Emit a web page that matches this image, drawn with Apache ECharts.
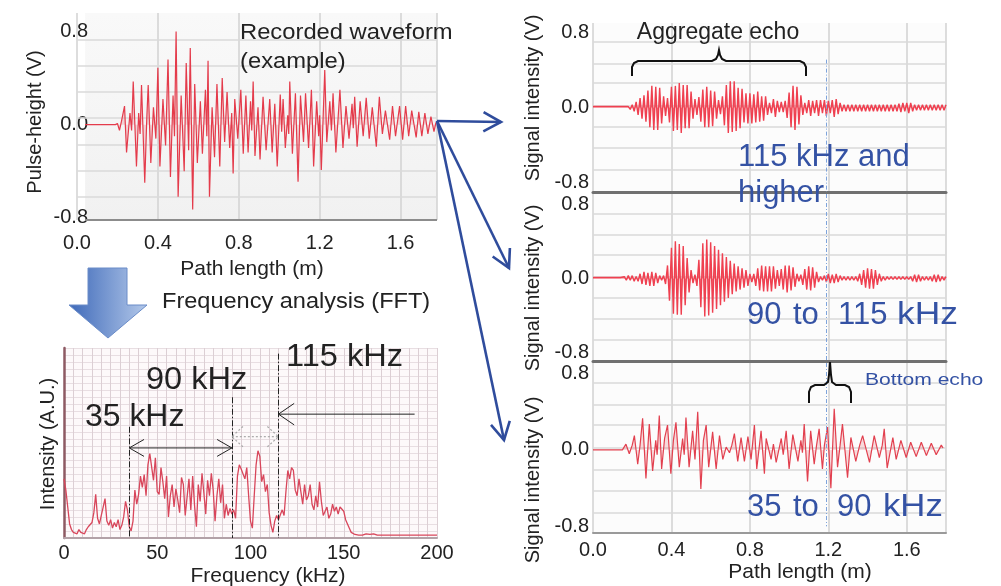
<!DOCTYPE html>
<html>
<head>
<meta charset="utf-8">
<script src="https://cdn.jsdelivr.net/npm/echarts@6/dist/echarts.min.js"></script>
<style>
  html, body { margin: 0; padding: 0; background: #ffffff; }
  #chart { width: 1001px; height: 586px; }
</style>
</head>
<body>
<div id="chart"></div>
<script>
// ---------------- data ----------------
// Recorded waveform: [path length (m), pulse height (V)]
const RECORDED_WAVE = [
  [0.04,0],[0.19,0],[0.20,0.01],[0.21,-0.05],[0.22,0.03],[0.235,0.16],[0.245,-0.24],[0.262,0.10],[0.27,-0.05],[0.278,0.37],
  [0.294,-0.36],[0.305,0.10],[0.312,-0.08],[0.319,0.34],[0.335,-0.50],[0.345,0.05],[0.352,0.34],[0.365,-0.33],[0.378,0.15],[0.39,-0.12],
  [0.40,0.49],[0.41,-0.36],[0.425,0.22],[0.438,-0.18],[0.45,0.56],[0.462,-0.45],[0.475,0.25],[0.482,-0.10],[0.49,0.80],[0.50,-0.62],
  [0.515,0.25],[0.53,-0.40],[0.54,0.53],[0.552,-0.22],[0.56,0.66],[0.572,-0.73],[0.582,0.35],[0.595,-0.33],[0.61,0.20],[0.62,-0.25],
  [0.635,0.30],[0.642,-0.10],[0.648,0.55],[0.655,-0.62],[0.668,0.15],[0.68,-0.28],[0.692,0.35],[0.706,-0.36],[0.718,0.40],[0.73,-0.15],
  [0.742,0.28],[0.755,-0.20],[0.765,0.10],[0.772,-0.42],[0.78,0.22],[0.795,-0.12],[0.81,0.30],[0.822,-0.25],[0.835,0.25],[0.846,-0.24],
  [0.858,0.20],[0.864,-0.05],[0.871,0.37],[0.88,-0.27],[0.895,0.15],[0.905,-0.30],[0.92,0.24],[0.935,-0.22],[0.953,0.22],[0.965,-0.24],
  [0.978,0.18],[0.99,-0.36],[1.005,0.26],[1.012,-0.06],[1.019,0.22],[1.03,-0.20],[1.042,0.08],[1.047,-0.08],[1.052,0.37],[1.065,-0.25],
  [1.08,0.27],[1.093,-0.49],[1.105,0.25],[1.12,-0.15],[1.13,0.27],[1.145,-0.20],[1.159,0.30],[1.17,-0.36],[1.185,0.20],[1.195,-0.10],
  [1.20,0.08],[1.208,-0.39],[1.225,0.47],[1.235,-0.15],[1.25,0.20],[1.258,-0.05],[1.266,0.27],[1.28,-0.24],[1.30,0.30],[1.315,-0.20],
  [1.33,0.16],[1.345,-0.12],[1.36,0.18],[1.366,-0.03],[1.373,0.24],[1.385,-0.19],[1.40,0.20],[1.415,-0.10],[1.43,0.23],[1.445,-0.12],
  [1.46,0.15],[1.48,-0.19],[1.495,0.24],[1.51,-0.08],[1.525,0.12],[1.546,-0.13],[1.56,0.16],[1.575,-0.10],[1.595,0.16],[1.61,-0.13],
  [1.625,0.16],[1.64,-0.10],[1.655,0.12],[1.677,-0.11],[1.69,0.11],[1.705,-0.10],[1.72,0.10],[1.735,-0.08],[1.75,0.07],[1.765,-0.06],
  [1.775,0.02]
];

// FFT spectrum: intensity (A.U.) sampled every 1 kHz from 0 to 200 kHz
const FFT_STEP_KHZ = 1;
const FFT_INTENSITY = [
  42,34,22,10,6,4,5,3,6,4,
  5,3,6,8,7,11,18,31,14,10,
  16,22,28,12,9,13,7,11,8,13,
  6,9,15,26,20,8,5,12,34,24,
  31,44,36,45,30,52,60,61,41,57,
  33,31,50,40,28,44,15,30,38,22,
  35,27,18,43,38,16,29,42,20,44,
  23,8,38,26,46,32,17,41,30,46,
  34,12,30,42,25,38,14,24,16,21,
  17,20,14,44,52,49,48,42,50,30,
  12,7,30,52,62,58,40,45,33,38,
  18,9,4,12,16,13,14,20,16,33,
  48,42,50,48,34,30,42,33,24,38,
  27,30,38,24,20,30,22,40,26,16,
  17,22,14,17,24,19,22,17,22,21,
  19,13,10,7,4,3,2.5,2,2,2,
  2,2.5,3,3,2.5,3,3,2.5,2,2,
  2,2,2,2,2,2,2,2,2,2,
  2,2,2,2,2,2,2,2,2,2,
  2,2,2,2,2,2,2,2,2,2,
  2
];

// Band-filtered signals sampled every 0.01 m from 0 to 1.8 m (V)
const FILTER_STEP_M = 0.01;
const BAND_115_UP = [
  0.01,-0.01,0.01,-0.01,0.01,-0.01,0.01,-0.01,0.01,-0.01,0.01,-0.01,0.01,-0.01,0.01,-0.01,0.01,-0.01,0.01,
  -0.02,0.03,-0.04,0.06,-0.08,0.10,-0.12,0.13,-0.15,0.18,-0.21,
  0.23,-0.24,0.22,-0.24,0.21,-0.17,0.12,-0.09,0.10,-0.16,
  0.22,-0.25,0.23,-0.24,0.26,-0.27,0.24,-0.22,0.24,-0.22,
  0.17,-0.12,0.09,-0.08,0.11,-0.15,0.19,-0.21,0.22,-0.21,
  0.18,-0.20,0.17,-0.12,0.08,-0.07,0.12,-0.19,0.24,-0.27,
  0.28,-0.26,0.28,-0.25,0.21,-0.22,0.20,-0.16,0.15,-0.17,
  0.15,-0.17,0.14,-0.16,0.17,-0.15,0.12,-0.14,0.12,-0.08,
  0.05,-0.06,0.09,-0.10,0.07,-0.05,0.06,-0.05,0.07,-0.11,
  0.16,-0.21,0.23,-0.24,0.22,-0.18,0.13,-0.08,0.05,-0.06,
  0.08,-0.09,0.07,-0.06,0.08,-0.09,0.08,-0.06,0.08,-0.09,
  0.07,-0.06,0.08,-0.10,0.09,-0.07,0.05,-0.04,0.03,-0.04,
  0.03,-0.04,0.03,-0.04,0.03,-0.04,0.03,-0.04,0.03,-0.04,
  0.03,-0.04,0.03,-0.04,0.03,-0.04,0.03,-0.04,0.03,-0.04,
  0.03,-0.04,0.03,-0.04,0.03,-0.04,0.04,-0.05,0.05,-0.04,
  0.05,-0.06,0.05,-0.04,0.03,-0.03,0.03,-0.03,0.03,-0.03,
  0.03,-0.03,0.03,-0.03,0.03,-0.03,0.03,-0.03,0.03,-0.03,
  0.03
];
const BAND_90_115 = [
  0.01,-0.01,0.01,-0.01,0.01,-0.01,0.01,-0.01,0.01,-0.01,0.01,-0.01,0.01,-0.01,0.01,-0.01,
  0.02,-0.02,0.03,-0.02,0.03,-0.03,0.02,-0.03,0.05,-0.06,0.07,-0.07,0.06,-0.08,
  0.07,-0.08,0.06,-0.05,0.03,-0.02,0.03,-0.06,0.14,-0.24,
  0.33,-0.38,0.40,-0.39,0.37,-0.39,0.35,-0.29,0.22,-0.15,
  0.09,-0.05,0.04,-0.08,0.20,-0.31,0.38,-0.41,0.42,-0.40,
  0.39,-0.37,0.35,-0.33,0.31,-0.29,0.27,-0.25,0.23,-0.21,
  0.19,-0.17,0.16,-0.14,0.13,-0.12,0.11,-0.10,0.09,-0.08,
  0.05,-0.04,0.05,-0.08,0.11,-0.13,0.14,-0.14,0.13,-0.14,
  0.13,-0.14,0.13,-0.11,0.09,-0.08,0.10,-0.12,0.14,-0.15,
  0.14,-0.13,0.12,-0.09,0.05,-0.03,0.04,-0.07,0.10,-0.12,
  0.13,-0.13,0.12,-0.10,0.07,-0.04,0.02,-0.02,0.03,-0.04,
  0.05,-0.05,0.04,-0.05,0.05,-0.04,0.03,-0.02,0.02,-0.02,
  0.02,-0.02,0.02,-0.02,0.02,-0.03,0.05,-0.07,0.09,-0.10,
  0.11,-0.11,0.10,-0.11,0.09,-0.07,0.05,-0.03,0.02,-0.02,
  0.02,-0.01,0.02,-0.01,0.02,-0.01,0.02,-0.01,0.02,-0.01,
  0.02,-0.01,0.02,-0.03,0.04,-0.04,0.04,-0.03,0.02,-0.02,
  0.02,-0.02,0.02,-0.03,0.04,-0.04,0.04,-0.03,0.02,-0.02,
  0.02
];
// 35 to 90 kHz band: [path length (m), signal (V)]
const BAND_35_90 = [
  [0,0],[0.15,0],[0.158,-0.02],[0.168,0.06],[0.185,-0.04],[0.20,0.05],[0.211,0.15],[0.228,-0.15],[0.24,0.05],[0.253,0.33],
  [0.27,-0.30],[0.287,0.27],[0.304,-0.22],[0.32,0.10],[0.327,-0.05],[0.338,0.36],[0.35,-0.20],[0.365,0.12],[0.38,0.26],[0.397,-0.25],
  [0.41,0.10],[0.423,0.29],[0.44,-0.18],[0.457,0.12],[0.465,-0.05],[0.474,0.34],[0.49,-0.18],[0.508,0.20],[0.52,-0.10],[0.534,0.40],
  [0.55,-0.41],[0.563,0.10],[0.577,0.26],[0.59,-0.18],[0.61,0.19],[0.628,-0.20],[0.645,0.15],[0.662,-0.10],[0.679,0.03],[0.696,-0.03],
  [0.708,0.05],[0.721,0.17],[0.738,-0.12],[0.755,0.13],[0.772,-0.12],[0.79,0.14],[0.806,-0.10],[0.823,0.26],[0.835,-0.20],[0.857,0.20],
  [0.874,-0.25],[0.883,0.12],[0.908,-0.10],[0.92,0.06],[0.934,-0.13],[0.96,0.12],[0.97,-0.05],[0.985,0.20],[1.00,-0.20],[1.019,0.16],
  [1.045,-0.12],[1.06,0.10],[1.068,-0.03],[1.077,0.27],[1.094,-0.33],[1.11,0.20],[1.128,-0.15],[1.14,0.05],[1.153,0.22],[1.17,-0.20],
  [1.18,0.05],[1.196,0.24],[1.213,-0.40],[1.23,0.43],[1.247,-0.18],[1.26,0.05],[1.272,0.27],[1.298,-0.29],[1.315,0.13],[1.34,-0.12],
  [1.36,0.05],[1.375,0.15],[1.39,0.03],[1.41,-0.13],[1.434,0.15],[1.46,-0.08],[1.475,0.05],[1.485,0.22],[1.50,-0.19],[1.529,0.13],
  [1.546,-0.10],[1.57,0.10],[1.597,-0.08],[1.62,0.08],[1.648,-0.07],[1.674,0.08],[1.70,-0.06],[1.725,0.07],[1.75,-0.05],[1.776,0.05],
  [1.785,0.02]
];

// Tick labels and band edges
const PATH_TICKS = [0, 0.4, 0.8, 1.2, 1.6];
const VOLT_TICKS = [-0.8, 0, 0.8];
const BAND_EDGES_KHZ = [35, 90, 115];
const BOTTOM_ECHO_M = 1.19;
const RECORD_SPAN_M = [0.04, 1.78];

// ---------------- styling ----------------
const FONT = "'Liberation Sans', Arial, Helvetica, sans-serif";
const INK = '#222222';
const BLUE_TEXT = '#3452a4';
const BLUE_ARROW = '#2f4c9c';
const WAVE_RED = '#e43b4b';

const toSeries = (vals, step) => vals.map((v, i) => [+(i * step).toFixed(3), v]);

function pathAxis(gridIndex, max, showLabels, lineShow, lineColor, lineWidth, margin) {
  return {
    type: 'value', gridIndex, min: 0, max, interval: 0.4,
    axisLine: { show: lineShow, onZero: false, lineStyle: { color: lineColor, width: lineWidth } },
    axisTick: { show: false },
    axisLabel: {
      show: showLabels, customValues: PATH_TICKS, formatter: v => v.toFixed(1),
      margin, fontFamily: FONT, fontSize: 20, color: INK
    },
    splitLine: { show: true, lineStyle: { color: '#d2d2d2', width: 1.5 } }
  };
}
function voltAxis(gridIndex, min, max, margin) {
  return {
    type: 'value', gridIndex, min, max,
    axisLine: { show: false }, axisTick: { show: false },
    axisLabel: {
      customValues: VOLT_TICKS, formatter: v => v.toFixed(1),
      margin, fontFamily: FONT, fontSize: 20, color: INK
    },
    splitLine: { show: false }
  };
}
// horizontal guide lines drawn behind a trace
function guideLines(idx, values) {
  return {
    type: 'line', xAxisIndex: idx, yAxisIndex: idx, data: [], silent: true,
    markLine: {
      silent: true, symbol: 'none', z: 1, animation: false, label: { show: false },
      lineStyle: { color: '#dadada', width: 1.5, type: 'solid' },
      data: values.map(v => ({ yAxis: v }))
    }
  };
}
function segmentLines(idx, segs, lineStyle, z) {
  return {
    type: 'line', xAxisIndex: idx, yAxisIndex: idx, data: [], silent: true,
    markLine: {
      silent: true, symbol: 'none', z: z, animation: false, label: { show: false },
      lineStyle, data: segs.map(s => [{ coord: s[0] }, { coord: s[1] }])
    }
  };
}
function trace(idx, data, color, width, fillOpacity) {
  const s = {
    type: 'line', xAxisIndex: idx, yAxisIndex: idx, data, symbol: 'none',
    silent: true, z: 3, lineStyle: { color, width }
  };
  if (fillOpacity) s.areaStyle = { color, opacity: fillOpacity, origin: 0 };
  return s;
}

const chart = echarts.init(document.getElementById('chart'), null, { renderer: 'canvas' });

const option = {
  animation: false,
  backgroundColor: '#ffffff',
  grid: [
    { left: 77, top: 13, width: 360, height: 207, show: false },
    { left: 64, top: 348, width: 373, height: 190, show: true, backgroundColor: '#fdf9fa', borderWidth: 0 },
    { left: 593, top: 23, width: 353, height: 169, show: true, backgroundColor: '#fcfcfc', borderWidth: 0 },
    { left: 593, top: 194, width: 353, height: 167, show: true, backgroundColor: '#fcfcfc', borderWidth: 0 },
    { left: 593, top: 363, width: 353, height: 170, show: true, backgroundColor: '#fcfcfc', borderWidth: 0 }
  ],
  xAxis: [
    pathAxis(0, 1.78, true, false, '#8c8c8c', 2, 13),
    {
      type: 'value', gridIndex: 1, min: 0, max: 200, interval: 50,
      axisLine: { show: true, onZero: false, lineStyle: { color: '#b3a2a8', width: 2 } },
      axisTick: { show: false },
      axisLabel: { margin: 5, fontFamily: FONT, fontSize: 20, color: INK },
      splitLine: { show: true, lineStyle: { color: '#dccfd4', width: 1 } },
      minorTick: { show: false, splitNumber: 10 },
      minorSplitLine: { show: true, lineStyle: { color: '#dccfd4', width: 1 } }
    },
    pathAxis(2, 1.8, false, true, '#707070', 3, 8),
    pathAxis(3, 1.8, false, true, '#707070', 3, 8),
    pathAxis(4, 1.8, true, true, '#9a9a9a', 2, 7)
  ],
  yAxis: [
    voltAxis(0, -0.82, 0.96, -11),
    {
      type: 'value', gridIndex: 1, min: 0, max: 135, interval: 5,
      axisLine: { show: true, onZero: false, lineStyle: { color: '#8e5a63', width: 2.5 } },
      axisTick: { show: false }, axisLabel: { show: false },
      splitLine: { show: true, lineStyle: { color: '#e8dee2', width: 1 } }
    },
    voltAxis(2, -0.9, 0.9, 4),
    voltAxis(3, -0.89, 0.91, 4),
    voltAxis(4, -0.87, 0.91, 4)
  ],
  series: [
    guideLines(0, [0.73, 0.505, 0.28, 0.055, -0.17, -0.395, -0.62]),
    guideLines(2, [0.70, 0.475, 0.255, 0.02, -0.215, -0.435, -0.66]),
    guideLines(3, [0.70, 0.475, 0.255, 0.02, -0.215, -0.435, -0.66]),
    guideLines(4, [0.70, 0.475, 0.255, 0.02, -0.215, -0.435, -0.66]),
    trace(0, RECORDED_WAVE, WAVE_RED, 1.2, 0.18),
    trace(1, toSeries(FFT_INTENSITY, FFT_STEP_KHZ), '#d8465b', 1.3),
    trace(2, toSeries(BAND_115_UP, FILTER_STEP_M), '#ef4050', 1.4, 0.75),
    trace(3, toSeries(BAND_90_115, FILTER_STEP_M), '#ef4050', 1.4, 0.75),
    trace(4, BAND_35_90, '#e2404f', 1.2, 0.18),
    // base line of the recorded waveform panel
    segmentLines(0, [[[RECORD_SPAN_M[0], -0.82], [RECORD_SPAN_M[1], -0.82]]], { color: '#8c8c8c', width: 2, type: 'solid' }, 5),
    // band edges in the spectrum
    segmentLines(1, [
      [[BAND_EDGES_KHZ[0], 79], [BAND_EDGES_KHZ[0], 0]],
      [[BAND_EDGES_KHZ[1], 100], [BAND_EDGES_KHZ[1], 0]],
      [[BAND_EDGES_KHZ[2], 131], [BAND_EDGES_KHZ[2], 0]]
    ], { color: '#222', width: 1, type: [6, 2, 1.5, 2] }, 5),
    // bottom echo position across the filtered traces
    segmentLines(2, [[[BOTTOM_ECHO_M, 0.51], [BOTTOM_ECHO_M, -0.9]]], { color: '#7ea4dc', width: 1, type: [4, 2, 1, 2] }, 5),
    segmentLines(3, [[[BOTTOM_ECHO_M, 0.91], [BOTTOM_ECHO_M, -0.89]]], { color: '#7ea4dc', width: 1, type: [4, 2, 1, 2] }, 5),
    segmentLines(4, [[[BOTTOM_ECHO_M, 0.91], [BOTTOM_ECHO_M, -0.8]]], { color: '#7ea4dc', width: 1, type: [4, 2, 1, 2] }, 5)
  ]
};
chart.setOption(option);

// ---------------- annotations ----------------
function text(str, x, y, size, opts) {
  const o = opts || {};
  return {
    type: 'text', x, y, rotation: o.rotation || 0, scaleX: o.scaleX || 1, z: 20, silent: true,
    style: {
      text: str, fontFamily: FONT, fontSize: size, fill: o.fill || INK,
      align: o.align || 'left', verticalAlign: 'middle'
    }
  };
}
function chevron(tip, fromPt, len, halfAngle, style) {
  const ang = Math.atan2(tip[1] - fromPt[1], tip[0] - fromPt[0]);
  const a1 = [tip[0] - len * Math.cos(ang - halfAngle), tip[1] - len * Math.sin(ang - halfAngle)];
  const a2 = [tip[0] - len * Math.cos(ang + halfAngle), tip[1] - len * Math.sin(ang + halfAngle)];
  return { type: 'polyline', z: 20, silent: true, shape: { points: [a1, tip, a2] }, style: Object.assign({ fill: null }, style) };
}
function shaft(a, b, style) {
  return { type: 'line', z: 20, silent: true, shape: { x1: a[0], y1: a[1], x2: b[0], y2: b[1] }, style: Object.assign({}, style) };
}

const px = (g, pt) => chart.convertToPixel({ gridIndex: g }, pt);
const thin = { stroke: '#222', lineWidth: 1 };
const dotted = { stroke: '#a8a8a8', lineWidth: 1.2, lineDash: [2, 2] };

const b35 = px(1, [BAND_EDGES_KHZ[0], 64]);
const b90 = px(1, [BAND_EDGES_KHZ[1], 64]);
const g90 = px(1, [BAND_EDGES_KHZ[1], 72]);
const g115 = px(1, [BAND_EDGES_KHZ[2], 72]);
const a115 = px(1, [BAND_EDGES_KHZ[2], 88]);
const aTail = px(1, [188, 88]);

// plot background of the recorded waveform, spanning the recorded range only
const bgTL = px(0, [RECORD_SPAN_M[0], 0.96]);
const bgBR = px(0, [RECORD_SPAN_M[1], -0.82]);

const blueStyle = { stroke: BLUE_ARROW, lineWidth: 2.6 };
const origin = [437, 121];
const targets = [[501, 122], [509, 268], [504, 440]];

const graphics = [
  {
    type: 'rect', z: -1, silent: true,
    shape: { x: bgTL[0], y: bgTL[1], width: bgBR[0] - bgTL[0], height: bgBR[1] - bgTL[1] },
    style: {
      fill: new echarts.graphic.LinearGradient(0, 0, 0, 1, [
        { offset: 0, color: '#f9f9f9' }, { offset: 1, color: '#f1f1f1' }
      ])
    }
  },
  // block arrow pointing to the spectrum
  {
    type: 'polygon', z: 15, silent: true,
    shape: { points: [[88, 268], [127, 268], [127, 305], [147, 305], [108, 338], [69, 305], [88, 305]] },
    style: {
      fill: new echarts.graphic.LinearGradient(0, 0, 1, 0, [
        { offset: 0, color: '#3e69b9' }, { offset: 1, color: '#b4c9ea' }
      ]),
      stroke: '#6a8cc8', lineWidth: 1
    }
  },
  // spectrum arrows
  shaft(b35, b90, thin),
  chevron(b35, b90, 17, 0.52, thin),
  chevron(b90, b35, 17, 0.52, thin),
  shaft(g90, g115, dotted),
  chevron(g90, g115, 15, 0.74, dotted),
  chevron(g115, g90, 15, 0.74, dotted),
  shaft(aTail, a115, thin),
  chevron(a115, aTail, 19, 0.6, thin),
  // braces
  {
    type: 'polyline', z: 20, silent: true,
    shape: { points: [[632, 76], [632, 67], [634, 63], [638, 61], [712, 61], [716, 59], [718, 55], [719, 50], [720, 55], [722, 59], [726, 61], [800, 61], [804, 63], [806, 67], [806, 76]] },
    style: { stroke: '#111', lineWidth: 2, fill: null }
  },
  {
    type: 'polyline', z: 20, silent: true,
    shape: { points: [[809, 403], [809, 392], [811, 387], [815, 385], [824, 385], [828, 382], [829, 375], [830, 362], [831, 375], [832, 382], [836, 385], [845, 385], [849, 387], [851, 392], [851, 403]] },
    style: { stroke: '#111', lineWidth: 2, fill: null }
  },
  // texts
  text('Recorded waveform', 240, 33, 22, { scaleX: 1.08 }),
  text('(example)', 240, 62, 22, { scaleX: 1.08 }),
  text('Pulse-height (V)', 35, 122, 20, { rotation: Math.PI / 2, align: 'center' }),
  text('Path length (m)', 252, 269, 21, { align: 'center' }),
  text('Frequency analysis (FFT)', 162, 302, 22, { scaleX: 1.07 }),
  text('Intensity (A.U.)', 48, 444, 20, { rotation: Math.PI / 2, align: 'center' }),
  text('Frequency (kHz)', 268, 576, 21, { align: 'center' }),
  text('35 kHz', 85, 417, 31, { scaleX: 1.03 }),
  text('90 kHz', 146, 380, 31, { scaleX: 1.05 }),
  text('115 kHz', 286, 357, 31, { scaleX: 1.05 }),
  text('Aggregate echo', 718, 33, 23, { align: 'center' }),
  text('Signal intensity (V)', 533, 98, 20, { rotation: Math.PI / 2, align: 'center' }),
  text('Signal intensity (V)', 533, 288, 20, { rotation: Math.PI / 2, align: 'center' }),
  text('Signal intensity (V)', 533, 480, 20, { rotation: Math.PI / 2, align: 'center' }),
  text('115 kHz and', 738, 157, 31, { fill: BLUE_TEXT }),
  text('higher', 738, 193, 31, { fill: BLUE_TEXT }),
  text('90', 747, 315, 31, { fill: BLUE_TEXT }),
  text('to', 793, 315, 31, { fill: BLUE_TEXT }),
  text('115', 838, 315, 31, { fill: BLUE_TEXT }),
  text('kHz', 897, 315, 31, { fill: BLUE_TEXT, scaleX: 1.14 }),
  text('35', 747, 507, 31, { fill: BLUE_TEXT }),
  text('to', 793, 507, 31, { fill: BLUE_TEXT }),
  text('90', 837, 507, 31, { fill: BLUE_TEXT }),
  text('kHz', 883, 507, 31, { fill: BLUE_TEXT, scaleX: 1.12 }),
  text('Bottom echo', 865, 380, 17, { fill: BLUE_TEXT, scaleX: 1.24 }),
  text('Path length (m)', 800, 572, 21, { align: 'center' })
];
targets.forEach(t => {
  graphics.push(shaft(origin, t, blueStyle));
  graphics.push(chevron(t, origin, 20, 0.5, blueStyle));
});

chart.setOption({ graphic: graphics });
</script>
</body>
</html>
